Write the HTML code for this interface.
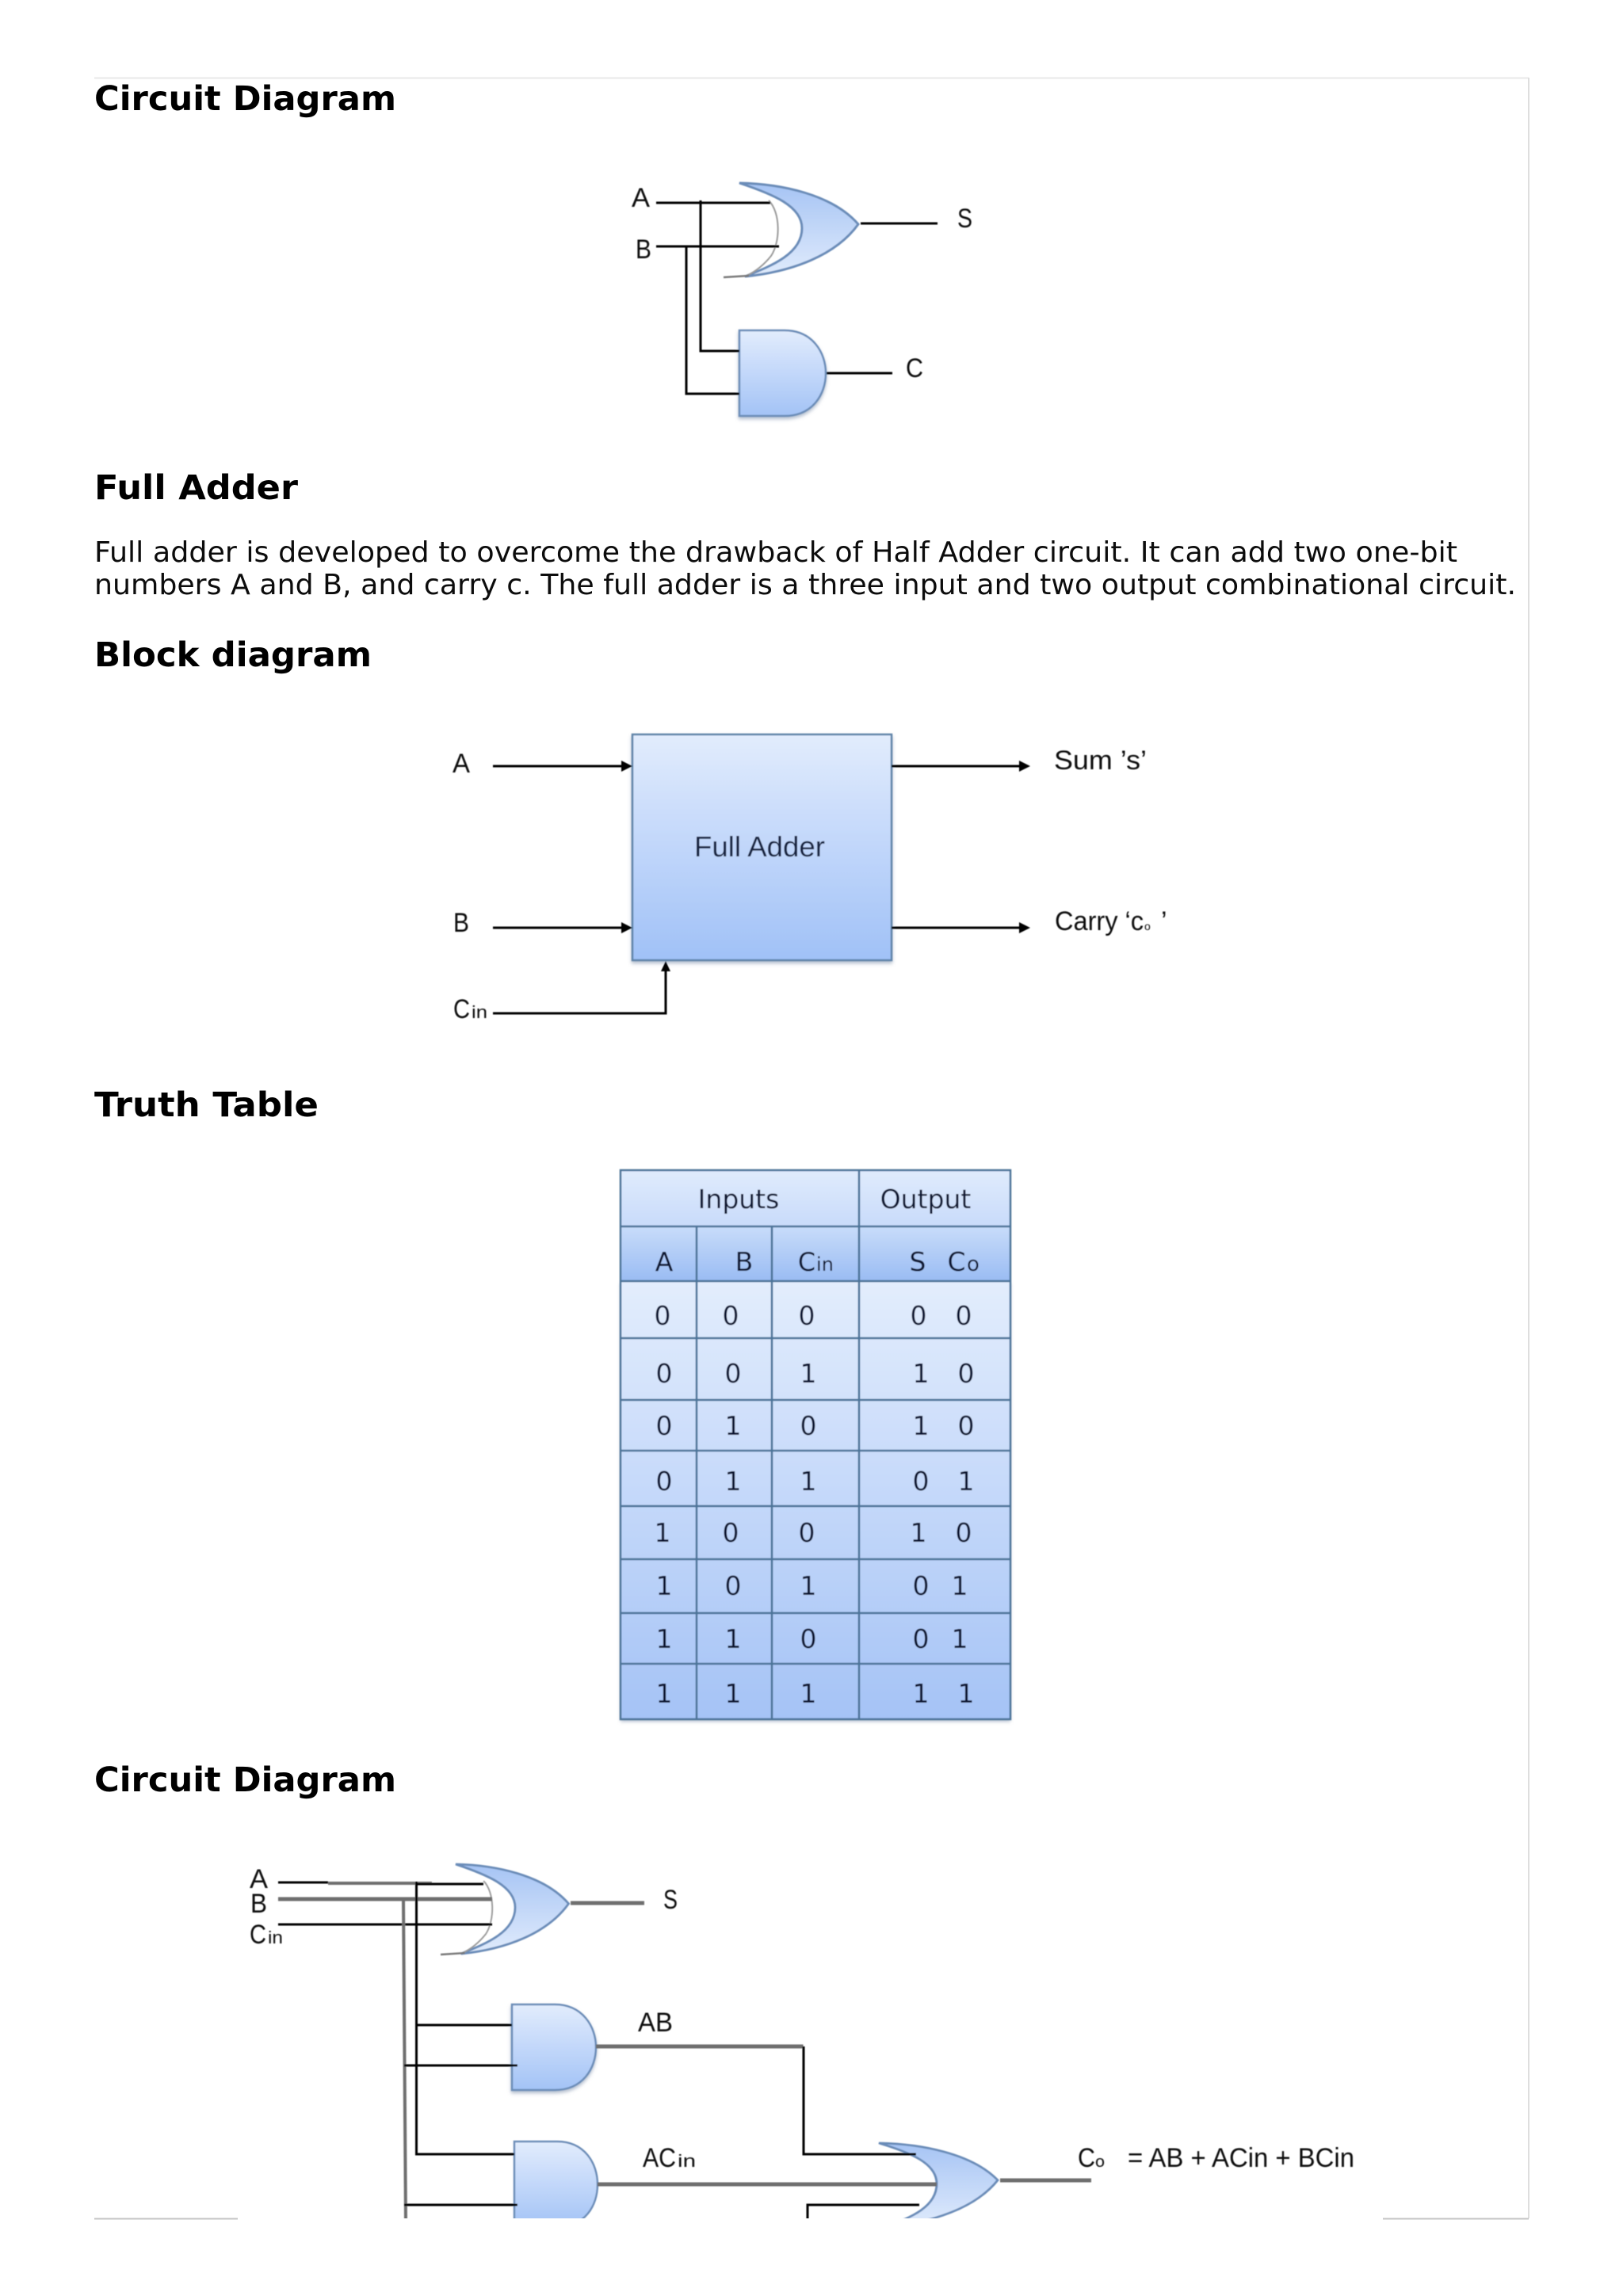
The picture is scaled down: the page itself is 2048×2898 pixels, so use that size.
<!DOCTYPE html>
<html><head><meta charset="utf-8"><title>Full Adder</title>
<style>
html,body{margin:0;padding:0;background:#fff;width:2048px;height:2898px;overflow:hidden}
svg{display:block}
.h{font-family:"DejaVu Sans",sans-serif;font-weight:bold;font-size:43px;fill:#000}
.b{font-family:"DejaVu Sans",sans-serif;font-size:36px;fill:#0c0c0c}
.l{font-family:"Liberation Sans",sans-serif;font-size:34px;fill:#111}
.t{font-family:"DejaVu Sans",sans-serif;font-size:33px;fill:#0e1830;text-anchor:middle}
.w{stroke:#000;stroke-width:3;fill:none}
.g{stroke:#6e6e6e;stroke-width:5;fill:none}
.tl{stroke:#4c7398;stroke-width:2.5;fill:none}
</style></head><body>
<svg xmlns="http://www.w3.org/2000/svg" width="2048" height="2898" viewBox="0 0 2048 2898">
<defs>
<linearGradient id="andG" x1="0" y1="0" x2="0" y2="1"><stop offset="0" stop-color="#e2ecfd"/><stop offset="1" stop-color="#a3c3f6"/></linearGradient>
<linearGradient id="orG" x1="0" y1="0" x2="0" y2="1"><stop offset="0" stop-color="#a6c4f4"/><stop offset="1" stop-color="#e0ebfc"/></linearGradient>
<linearGradient id="boxG" x1="0" y1="0" x2="0" y2="1"><stop offset="0" stop-color="#e2ecfd"/><stop offset="1" stop-color="#a0c1f7"/></linearGradient>
<linearGradient id="hdrG" x1="0" y1="0" x2="0" y2="1"><stop offset="0" stop-color="#c8dcfa"/><stop offset="1" stop-color="#9abcf3"/></linearGradient>
<linearGradient id="tblG" x1="0" y1="0" x2="0" y2="1"><stop offset="0" stop-color="#e3edfd"/><stop offset="1" stop-color="#a5c3f6"/></linearGradient>
<linearGradient id="tbl0" x1="0" y1="0" x2="0" y2="1"><stop offset="0" stop-color="#e0ebfd"/><stop offset="1" stop-color="#c8dbfa"/></linearGradient>
<clipPath id="clip"><rect x="0" y="2200" width="2048" height="600"/></clipPath>
<filter id="s" x="-10%" y="-10%" width="120%" height="120%"><feGaussianBlur stdDeviation="0.5"/></filter>
<filter id="sh" x="-10%" y="-10%" width="120%" height="125%"><feDropShadow dx="0" dy="3" stdDeviation="2" flood-color="#7a8ca8" flood-opacity="0.55"/></filter>
</defs>
<rect width="2048" height="2898" fill="#fff"/>

<!-- page frame -->
<path d="M119 98.5H1929" stroke="#e8e8e8" stroke-width="2" fill="none"/>
<path d="M1929 98V2800" stroke="#dedede" stroke-width="2" fill="none"/>
<path d="M119 2800.5H300M1745 2800.5H1929" stroke="#c4c4c4" stroke-width="2" fill="none"/>

<!-- text -->
<text class="h" x="119" y="139" textLength="381" lengthAdjust="spacingAndGlyphs">Circuit Diagram</text>
<text class="h" x="119" y="630" textLength="257" lengthAdjust="spacingAndGlyphs">Full Adder</text>
<text class="b" x="119" y="709" textLength="1720" lengthAdjust="spacingAndGlyphs">Full adder is developed to overcome the drawback of Half Adder circuit. It can add two one-bit</text>
<text class="b" x="119" y="750" textLength="1794" lengthAdjust="spacingAndGlyphs">numbers A and B, and carry c. The full adder is a three input and two output combinational circuit.</text>
<text class="h" x="119" y="841" textLength="350" lengthAdjust="spacingAndGlyphs">Block diagram</text>
<text class="h" x="119" y="1409" textLength="283" lengthAdjust="spacingAndGlyphs">Truth Table</text>
<text class="h" x="119" y="2261" textLength="381" lengthAdjust="spacingAndGlyphs">Circuit Diagram</text>

<!-- half adder -->
<g filter="url(#s)">
<path d="M933 231C985 232 1050 245 1083 283C1055 322 1000 343 940 349C975 335 1012 320 1012 288C1012 260 975 245 933 231Z" fill="url(#orG)" stroke="#6b8cb8" stroke-width="3"/>
<path d="M970 253C985 268 985 305 973 323C965 333 955 342 942 348" fill="none" stroke="#9a9a9a" stroke-width="2"/>
<path d="M913 350L945 348" stroke="#777" stroke-width="2.5" fill="none"/>
<path d="M933 417H990C1025 417 1042 445 1042 471C1042 498 1025 525 990 525H933Z" fill="url(#andG)" stroke="#6c8db8" stroke-width="2.5" filter="url(#sh)"/>
<path class="w" d="M828 256H972M884 253V443H933M828 311H983M866 311V497H933M1086 282H1183M1043 471H1126"/>
</g>
<g filter="url(#s)">
<text class="l" x="797" y="261" textLength="23" lengthAdjust="spacingAndGlyphs">A</text>
<text class="l" x="802" y="326" textLength="20" lengthAdjust="spacingAndGlyphs">B</text>
<text class="l" x="1208" y="287" textLength="19" lengthAdjust="spacingAndGlyphs">S</text>
<text class="l" x="1143" y="476" textLength="22" lengthAdjust="spacingAndGlyphs">C</text>
</g>

<!-- block diagram -->
<g filter="url(#s)">
<rect x="798" y="927" width="327" height="285" fill="url(#boxG)" stroke="#5f83a8" stroke-width="2.5" filter="url(#sh)"/>
<path class="w" d="M622 967H790M622 1171H790M1125 967H1290M1125 1171H1290M622 1279H840V1225"/>
<path d="M798 967L784 960V974ZM798 1171L784 1164V1178ZM1300 967L1286 960V974ZM1300 1171L1286 1164V1178ZM840 1213L834 1226H846Z" fill="#000"/>
<text class="l" x="571" y="975" textLength="22" lengthAdjust="spacingAndGlyphs">A</text>
<text class="l" x="572" y="1176" textLength="20" lengthAdjust="spacingAndGlyphs">B</text>
<text class="l" x="572" y="1285" textLength="21" lengthAdjust="spacingAndGlyphs">C</text>
<text class="l" x="595" y="1285" style="font-size:22px" textLength="20" lengthAdjust="spacingAndGlyphs">in</text>
<text class="l" x="876" y="1081" textLength="165" lengthAdjust="spacingAndGlyphs" style="font-size:36px;fill:#14233f">Full Adder</text>
<text class="l" x="1330" y="971" textLength="117" lengthAdjust="spacingAndGlyphs">Sum ’s’</text>
<text class="l" x="1331" y="1174" textLength="112" lengthAdjust="spacingAndGlyphs">Carry ‘c</text>
<text class="l" x="1444" y="1174" style="font-size:14px">o</text>
<text class="l" x="1465" y="1174">’</text>
</g>

<!-- truth table -->
<g filter="url(#s)">
<rect x="783" y="1617" width="492" height="553" fill="url(#tblG)" filter="url(#sh)"/>
<rect x="783" y="1477" width="492" height="71" fill="url(#tbl0)"/>
<rect x="783" y="1548" width="492" height="69" fill="url(#hdrG)"/>
<path class="tl" d="M783 1477H1275V2170H783ZM1084 1477V2170M879 1548V2170M974 1548V2170M783 1548H1275M783 1617H1275M783 1689H1275M783 1767H1275M783 1831H1275M783 1901H1275M783 1968H1275M783 2036H1275M783 2100H1275"/>
<text class="t" x="932" y="1525">Inputs</text>
<text class="t" x="1168" y="1525">Output</text>
<text class="t" x="838" y="1604">A</text><text class="t" x="939" y="1604">B</text>
<text class="t" x="1018" y="1604" style="font-size:32px" >C</text><text class="t" x="1041" y="1604" style="font-size:24px">in</text>
<text class="t" x="1158" y="1604">S</text><text class="t" x="1207" y="1604">C</text><text class="t" x="1228" y="1604" style="font-size:26px">o</text>

<text class="t" x="836" y="1672">0</text><text class="t" x="922" y="1672">0</text><text class="t" x="1018" y="1672">0</text><text class="t" x="1159" y="1672">0</text><text class="t" x="1216" y="1672">0</text>
<text class="t" x="838" y="1745">0</text><text class="t" x="925" y="1745">0</text><text class="t" x="1020" y="1745">1</text><text class="t" x="1162" y="1745">1</text><text class="t" x="1219" y="1745">0</text>
<text class="t" x="838" y="1811">0</text><text class="t" x="925" y="1811">1</text><text class="t" x="1020" y="1811">0</text><text class="t" x="1162" y="1811">1</text><text class="t" x="1219" y="1811">0</text>
<text class="t" x="838" y="1881">0</text><text class="t" x="925" y="1881">1</text><text class="t" x="1020" y="1881">1</text><text class="t" x="1162" y="1881">0</text><text class="t" x="1219" y="1881">1</text>
<text class="t" x="836" y="1946">1</text><text class="t" x="922" y="1946">0</text><text class="t" x="1018" y="1946">0</text><text class="t" x="1159" y="1946">1</text><text class="t" x="1216" y="1946">0</text>
<text class="t" x="838" y="2013">1</text><text class="t" x="925" y="2013">0</text><text class="t" x="1020" y="2013">1</text><text class="t" x="1162" y="2013">0</text><text class="t" x="1211" y="2013">1</text>
<text class="t" x="838" y="2080">1</text><text class="t" x="925" y="2080">1</text><text class="t" x="1020" y="2080">0</text><text class="t" x="1162" y="2080">0</text><text class="t" x="1211" y="2080">1</text>
<text class="t" x="838" y="2149">1</text><text class="t" x="925" y="2149">1</text><text class="t" x="1020" y="2149">1</text><text class="t" x="1162" y="2149">1</text><text class="t" x="1219" y="2149">1</text>
</g>

<!-- full adder circuit -->
<g clip-path="url(#clip)"><g filter="url(#s)">
<g transform="translate(575 2353) scale(.95 .958)">
<path d="M0 0C52 1 117 14 150 52C122 91 67 112 7 118C42 104 79 89 79 57C79 29 42 14 0 0Z" fill="url(#orG)" stroke="#6b8cb8" stroke-width="3"/>
<path d="M37 22C52 37 52 74 40 92C32 102 22 111 9 117" fill="none" stroke="#9a9a9a" stroke-width="2"/>
<path d="M-20 119L12 117" stroke="#777" stroke-width="2.5" fill="none"/>
</g>
<path d="M646 2530H700C735 2530 752 2558 752 2584C752 2611 735 2638 700 2638H646Z" fill="url(#andG)" stroke="#6c8db8" stroke-width="2.5" filter="url(#sh)"/>
<path d="M649 2703H703C738 2703 754 2731 754 2757C754 2784 738 2811 703 2811H649Z" fill="url(#andG)" stroke="#6c8db8" stroke-width="2.5"/>
<g transform="translate(1109 2705) scale(1 .9)">
<path d="M0 0C52 1 117 14 150 52C122 91 67 112 7 118C42 104 73 89 73 57C73 29 42 14 0 0Z" fill="url(#orG)" stroke="#6b8cb8" stroke-width="3"/>
</g>
<path class="w" d="M351 2376H414"/>
<path class="g" d="M414 2377H545" style="stroke-width:4"/>
<path class="g" d="M351 2397H621"/>
<path class="w" d="M351 2429H621"/>
<path class="g" d="M509 2397L512 2805" style="stroke-width:4"/>
<path class="w" d="M525.5 2375V2719H649M525.5 2556H646M510 2607H653M510 2783H653M525 2378H610"/>
<path class="g" d="M720 2402H813M752 2583H1013.5M754 2757H1182M1262 2752H1377"/>
<path class="w" d="M1014 2583V2719H1156M1019 2805V2783H1160"/>
</g></g>
<g filter="url(#s)">
<text class="l" x="315" y="2383" textLength="23" lengthAdjust="spacingAndGlyphs">A</text>
<text class="l" x="316" y="2414" textLength="21" lengthAdjust="spacingAndGlyphs">B</text>
<text class="l" x="315" y="2453" textLength="21" lengthAdjust="spacingAndGlyphs">C</text>
<text class="l" x="338" y="2453" style="font-size:22px" textLength="19" lengthAdjust="spacingAndGlyphs">in</text>
<text class="l" x="837" y="2409" textLength="18" lengthAdjust="spacingAndGlyphs">S</text>
<text class="l" x="805" y="2564" textLength="44" lengthAdjust="spacingAndGlyphs">AB</text>
<text class="l" x="811" y="2735" textLength="42" lengthAdjust="spacingAndGlyphs">AC</text>
<text class="l" x="855" y="2735" style="font-size:22px" textLength="23" lengthAdjust="spacingAndGlyphs">in</text>
<text class="l" x="1360" y="2735" textLength="22" lengthAdjust="spacingAndGlyphs">C</text>
<text class="l" x="1382" y="2735" style="font-size:20px" textLength="12" lengthAdjust="spacingAndGlyphs">o</text>
<text class="l" x="1423" y="2735" textLength="286" lengthAdjust="spacingAndGlyphs">= AB + ACin + BCin</text>
</g>
</svg>
</body></html>
